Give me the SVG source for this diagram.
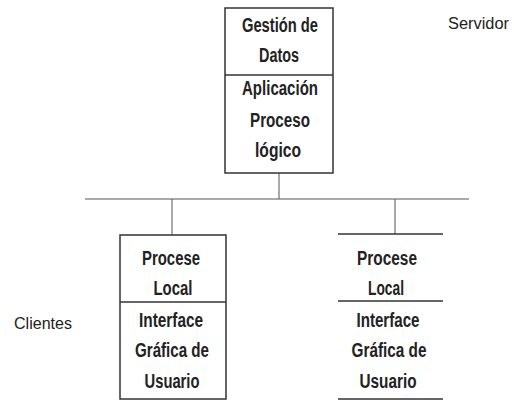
<svg xmlns="http://www.w3.org/2000/svg" width="514" height="400" viewBox="0 0 514 400">
<style>
.box{fill:none;stroke:#333;stroke-width:1.5}
.ln{stroke:#333;stroke-width:1.5}
.cn{stroke:#555;stroke-width:1;fill:none}
text{font-family:"Liberation Sans",Arial,sans-serif;font-size:20px;font-weight:bold;fill:#222;text-anchor:middle}
.lbl{font-size:16px;font-weight:normal;text-anchor:start}
</style>
<rect width="514" height="400" fill="#fff"/>
<g id="connectors">
<line class="cn" x1="85" y1="199" x2="469" y2="199"/>
<line class="cn" x1="279" y1="173" x2="279" y2="199"/>
<line class="cn" x1="172" y1="199" x2="172" y2="235"/>
<line class="cn" x1="395" y1="199" x2="395" y2="234"/>
</g>
<g id="servidor">
<rect class="box" x="225" y="8" width="108" height="165"/>
<line class="ln" x1="225" y1="75" x2="333" y2="75"/>
<text x="280" y="32" textLength="76" lengthAdjust="spacingAndGlyphs">Gestión de</text>
<text x="279" y="62" textLength="40" lengthAdjust="spacingAndGlyphs">Datos</text>
<text x="280" y="95" textLength="76" lengthAdjust="spacingAndGlyphs">Aplicación</text>
<text x="280" y="127" textLength="60" lengthAdjust="spacingAndGlyphs">Proceso</text>
<text x="278" y="157" textLength="46" lengthAdjust="spacingAndGlyphs">lógico</text>
</g>
<g id="cliente1">
<rect class="box" x="120" y="235" width="106" height="164"/>
<line class="ln" x1="120" y1="302" x2="226" y2="302"/>
<text x="171" y="265" textLength="58" lengthAdjust="spacingAndGlyphs">Procese</text>
<text x="173" y="295" textLength="39" lengthAdjust="spacingAndGlyphs">Local</text>
<text x="171" y="327" textLength="64" lengthAdjust="spacingAndGlyphs">Interface</text>
<text x="172" y="357" textLength="74" lengthAdjust="spacingAndGlyphs">Gráfica de</text>
<text x="172" y="388" textLength="55" lengthAdjust="spacingAndGlyphs">Usuario</text>
</g>
<g id="cliente2">
<line class="ln" x1="338" y1="234" x2="443" y2="234"/>
<line class="ln" x1="338" y1="301" x2="443" y2="301"/>
<line class="ln" x1="338" y1="399" x2="443" y2="399"/>
<text x="387" y="265" textLength="60" lengthAdjust="spacingAndGlyphs">Procese</text>
<text x="386" y="295" textLength="36" lengthAdjust="spacingAndGlyphs">Local</text>
<text x="388" y="327" textLength="63" lengthAdjust="spacingAndGlyphs">Interface</text>
<text x="389" y="357" textLength="75" lengthAdjust="spacingAndGlyphs">Gráfica de</text>
<text x="388" y="388" textLength="57" lengthAdjust="spacingAndGlyphs">Usuario</text>
</g>
<g id="label-servidor">
<text class="lbl" x="448" y="29" textLength="61" lengthAdjust="spacingAndGlyphs">Servidor</text>
</g>
<g id="label-clientes">
<text class="lbl" x="14" y="329" textLength="58" lengthAdjust="spacingAndGlyphs">Clientes</text>
</g>
</svg>
